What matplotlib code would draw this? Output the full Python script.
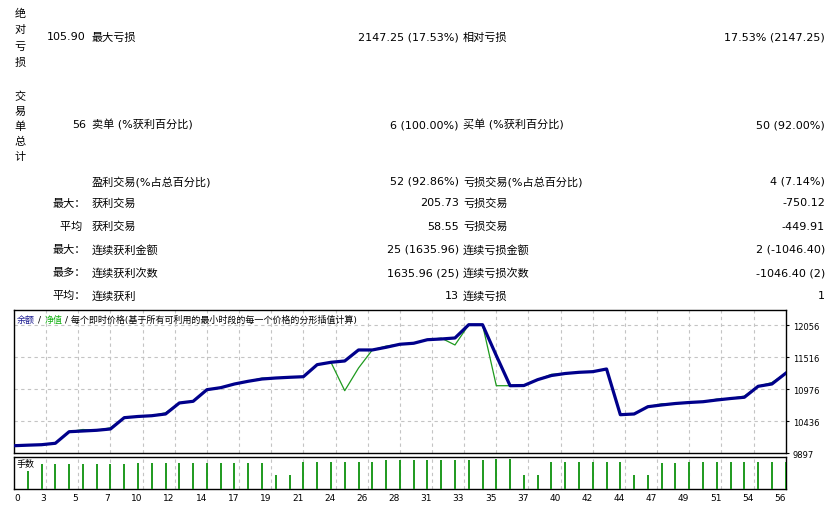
# -*- coding: utf-8 -*-
import numpy as np
import matplotlib
matplotlib.use('Agg')
from matplotlib import pyplot as plt

plt.rcParams['font.family'] = ['DejaVu Sans', 'Noto Sans CJK SC']

W, H = 839, 510

# 余额 / 净值 (每笔交易后)
balance = [10020, 10029, 10037, 10061, 10256, 10268, 10280, 10302, 10493, 10513,
           10526, 10555, 10741, 10769, 10965, 10999, 11061, 11107, 11145, 11162,
           11174, 11184, 11387, 11427, 11449, 11635, 11635, 11680, 11731, 11748,
           11808, 11820, 11837, 12061, 12061, 11540, 11032, 11035, 11134, 11204,
           11238, 11258, 11269, 11314, 10543, 10555, 10678, 10707, 10732, 10749,
           10762, 10791, 10816, 10837, 11022, 11061, 11242]
equity = [10020, 10029, 10037, 10061, 10256, 10293, 10280, 10322, 10493, 10513,
          10526, 10575, 10741, 10769, 10965, 10999, 11061, 11107, 11160, 11162,
          11174, 11184, 11387, 11427, 10948, 11330, 11635, 11700, 11731, 11748,
          11808, 11835, 11719, 12061, 12061, 11032, 11032, 11035, 11134, 11224,
          11238, 11258, 11269, 11314, 10543, 10555, 10678, 10727, 10732, 10749,
          10762, 10806, 10816, 10857, 11022, 11086, 11242]
# 手数, 第1笔到第56笔
lots = [0.13, 0.18, 0.18, 0.18, 0.18, 0.18, 0.18, 0.18, 0.19, 0.19,
        0.19, 0.19, 0.19, 0.19, 0.19, 0.19, 0.19, 0.19, 0.10, 0.10,
        0.20, 0.20, 0.20, 0.20, 0.20, 0.20, 0.21, 0.21, 0.21, 0.21,
        0.21, 0.21, 0.21, 0.21, 0.22, 0.22, 0.10, 0.10, 0.20, 0.20,
        0.20, 0.20, 0.20, 0.20, 0.10, 0.10, 0.19, 0.19, 0.20, 0.20,
        0.20, 0.20, 0.20, 0.20, 0.20, 0.20]
x_labels = ['0', '3', '5', '7', '10', '12', '14', '17', '19', '21', '24', '26', '28',
            '31', '33', '35', '37', '40', '42', '44', '47', '49', '51', '54', '56']
y_ticks = [9897, 10436, 10976, 11516, 12056]

# 报表
row_num = ['105.90', '56', '', '', '', '', '', '']
row_prefix = ['', '', '', '最大：', '平均 ', '最大：', '最多：', '平均：']
left_names = ['最大亏损', '卖单 (%获利百分比)', '盈利交易(%占总百分比)', '获利交易',
              '获利交易', '连续获利金额', '连续获利次数', '连续获利']
left_vals = ['2147.25 (17.53%)', '6 (100.00%)', '52 (92.86%)', '205.73',
             '58.55', '25 (1635.96)', '1635.96 (25)', '13']
right_names = ['相对亏损', '买单 (%获利百分比)', '亏损交易(%占总百分比)', '亏损交易',
               '亏损交易', '连续亏损金额', '连续亏损次数', '连续亏损']
right_vals = ['17.53% (2147.25)', '50 (92.00%)', '4 (7.14%)', '-750.12',
              '-449.91', '2 (-1046.40)', '-1046.40 (2)', '1']
side_labels = ['绝对亏损', '交易单总计']


def px(x, y):
    return x / W, 1 - y / H


fig = plt.figure(figsize=(W / 100, H / 100), dpi=100)
fig.patch.set_facecolor('white')

# 表格文字
row_y = [37.5, 125, 182, 203.5, 227, 250, 273, 296]
fs = 8
for i, y in enumerate(row_y):
    fig.text(*px(86, y), row_num[i] + row_prefix[i], ha='right', va='center', fontsize=fs)
    fig.text(*px(92, y), left_names[i], ha='left', va='center', fontsize=fs)
    fig.text(*px(459, y), left_vals[i], ha='right', va='center', fontsize=fs)
    fig.text(*px(463, y), right_names[i], ha='left', va='center', fontsize=fs)
    fig.text(*px(825, y), right_vals[i], ha='right', va='center', fontsize=fs)

for k, ch in enumerate(side_labels[0]):
    fig.text(*px(20, 14 + k * 16.3), ch, ha='center', va='center', fontsize=fs)
for k, ch in enumerate(side_labels[1]):
    fig.text(*px(20, 97 + k * 15), ch, ha='center', va='center', fontsize=fs)

# 图表
left, right = 14, 785.7
ax = fig.add_axes([left / W, 1 - 454 / H, (right - left) / W, (454 - 311) / H])
axv = fig.add_axes([left / W, 1 - 489.5 / H, (right - left) / W, (489.5 - 458) / H])

n = len(balance) - 1
xs = np.arange(len(balance))
grid_x = np.linspace(0, n, len(x_labels))
grid_kw = dict(color='#c4c4c4', linestyle=(0, (3, 3)), linewidth=0.8)

ax.plot(xs, equity, color='#1e9a1e', lw=0.9, zorder=3)
ax.plot(xs, balance, color='#00008b', lw=2.3, zorder=4, solid_joinstyle='round')
ax.set_xlim(0, n)
ax.set_ylim(9897, 9897 + (454 - 311) * (12056 - 9897) / 128)
for gx in grid_x[1:-1]:
    ax.axvline(gx, **grid_kw, zorder=1)
for gy in y_ticks[1:]:
    ax.axhline(gy, **grid_kw, zorder=1)
ax.set_xticks([])
ax.yaxis.tick_right()
ax.set_yticks(y_ticks)
ax.set_yticklabels([str(v) for v in y_ticks], fontsize=6)
ax.tick_params(axis='y', length=2, pad=3, width=0.8)
for s in ax.spines.values():
    s.set_linewidth(1.0)

# 图例文字
ty = 320
fig.text(*px(17, ty), '余额', color='#1a1a90', fontsize=6.5, ha='left', va='center')
fig.text(*px(38, ty), '/', color='black', fontsize=6.5, ha='left', va='center')
fig.text(*px(45, ty), '净值', color='#10b010', fontsize=6.5, ha='left', va='center')
fig.text(*px(65, ty), '/ 每个即时价格(基于所有可利用的最小时段的每一个价格的分形插值计算)',
         color='black', fontsize=6.5, ha='left', va='center')

# 手数
axv.vlines(xs[1:], 0, lots, color='#1e9a1e', lw=1.4, zorder=3)
axv.set_xlim(0, n)
axv.set_ylim(0, 0.235)
for gx in grid_x[1:-1]:
    axv.axvline(gx, **grid_kw, zorder=1)
axv.set_yticks([])
axv.set_xticks(grid_x)
axv.set_xticklabels(x_labels, fontsize=6.5)
axv.tick_params(axis='x', length=0, pad=3)
for i, lab in enumerate(axv.get_xticklabels()):
    lab.set_ha('left' if i == 0 else 'right')
for s in axv.spines.values():
    s.set_linewidth(1.0)
fig.text(*px(17, 465), '手数', fontsize=6.5, ha='left', va='center')

fig.savefig('out.png', dpi=100, facecolor='white')
